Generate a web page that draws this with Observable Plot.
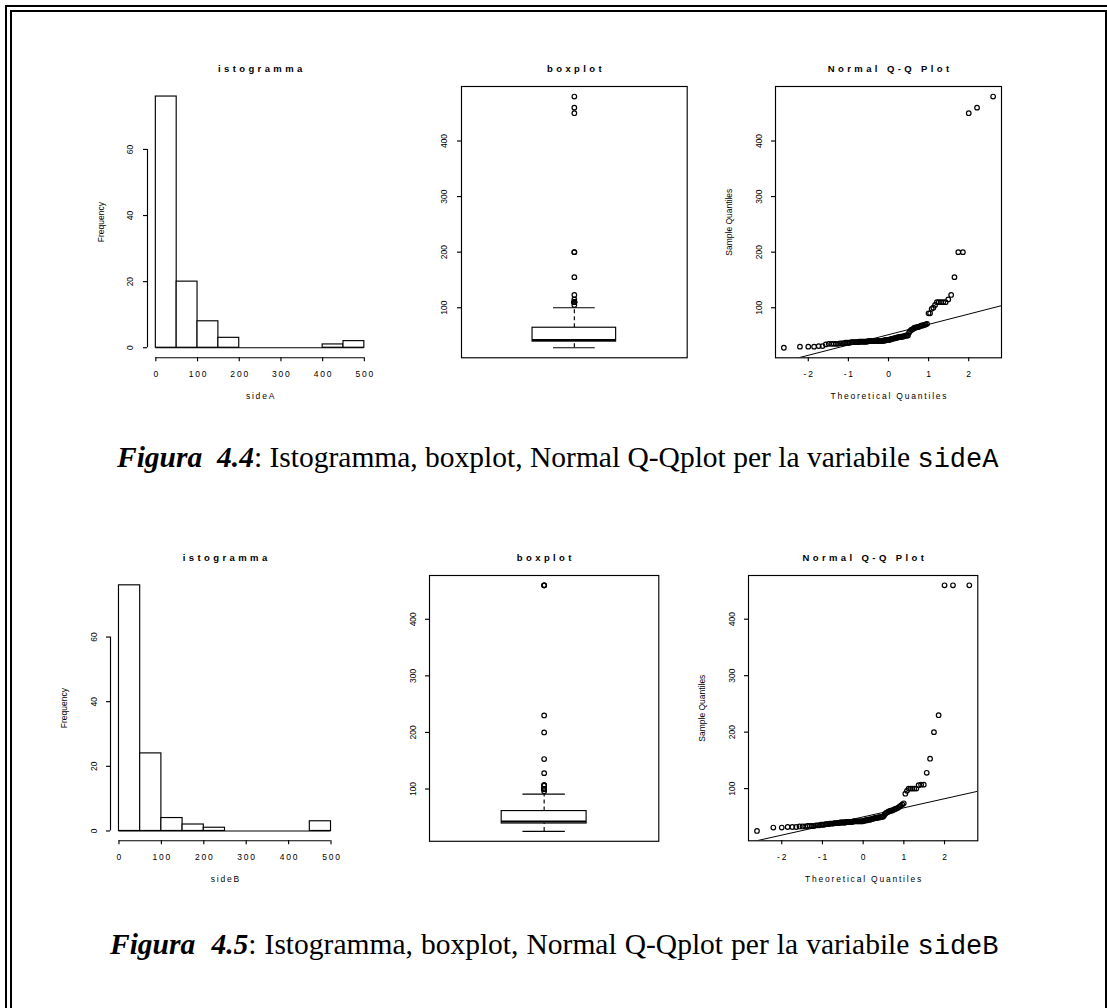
<!DOCTYPE html>
<html>
<head>
<meta charset="utf-8">
<script src="https://cdn.jsdelivr.net/npm/d3@7"></script>
<script src="https://cdn.jsdelivr.net/npm/@observablehq/plot@0.6"></script>
<style>
  body { margin: 0; background: #fff; }
  #page { position: relative; width: 1107px; height: 1008px; overflow: hidden; background: #fff; }
  .rule { position: absolute; box-sizing: border-box; border: 2px solid #000; }
  .panel { position: absolute; }
  .panel svg { overflow: visible; max-width: none; background: transparent; }
  .cap { position: absolute; font-family: "Liberation Serif", "Times New Roman", serif; font-size: 29.5px; line-height: 29.5px; white-space: pre; color: #000; }
  .cap .fig { font-weight: bold; font-style: italic; }
  .cap .mono { font-family: "Liberation Mono", "Courier New", monospace; font-size: 27px; }
</style>
</head>
<body>
<div id="page">
  <div class="rule" style="left:5px; top:5px; width:1120px; height:1100px;"></div>
  <div class="rule" style="left:10px; top:10px; width:1097px; height:1100px;"></div>
  <div class="cap" style="left:117px; top:443px;"><span class="fig">Figura  4.4</span>: Istogramma, boxplot, Normal Q-Qplot per la variabile <span class="mono">sideA</span></div>
  <div class="cap" style="left:110px; top:930px; word-spacing:0.7px;"><span class="fig">Figura  4.5</span>: Istogramma, boxplot, Normal Q-Qplot per la variabile <span class="mono">sideB</span></div>
</div>
<script>
// Sorted samples (n = 110) of the two variables
const sideA = [
  28,
  30, 30, 30, 31, 31,
  34, 35, 35, 35, 35, 35, 36, 36,
  36, 37, 37, 37, 37, 38,
  38, 38, 38, 38, 38, 39, 39,
  39, 39, 39, 39, 39, 39, 40, 40, 40, 40, 40, 40, 40,
  40, 40, 40, 40, 40, 40, 40, 40, 40, 41, 41, 41, 42, 42, 42,
  42, 43, 43, 44, 44, 45, 45, 45, 46, 46, 47,
  47, 47, 48, 48, 48, 49, 49, 50, 50, 50,
  55, 58, 60, 61, 62, 64, 64, 65, 65, 66, 67, 68, 68, 69, 70, 71,
  90, 90, 98, 100,
  105, 110, 110, 110, 110, 110, 115, 123,
  155, 200, 200, 450, 460, 480
];
const sideB = [
  25,
  31, 31, 32, 32, 32,
  33, 33, 33, 34, 34, 34, 34, 35,
  35, 35, 36, 36, 36, 37,
  37, 37, 38, 38, 38, 38, 39,
  39, 39, 39, 39, 40, 40, 40, 40, 40, 40, 41, 41, 41,
  41, 41, 41, 41, 42, 42, 42, 42, 42, 42, 42, 42, 42, 42, 42,
  43, 43, 44, 44, 44, 45, 45, 45, 46, 46, 47,
  47, 48, 48, 48, 49, 49, 49, 50, 50, 50,
  52, 55, 57, 58, 59, 60, 61, 61, 62, 63, 64, 65, 66, 68, 70, 72, 74,
  91,
  96, 100, 100, 100, 100, 100,
  106, 107, 107, 128,
  153, 200, 230, 460, 460, 460
];

// Histogram breaks and axis ticks
const histBreaks = [0, 50, 100, 150, 200, 250, 300, 350, 400, 450, 500];
const histXTicks = [0, 100, 200, 300, 400, 500];
const histYTicks = [0, 20, 40, 60];
const valueTicks = [100, 200, 300, 400];
const zTicks = [-2, -1, 0, 1, 2];

// Plot-region rectangles of the six panels on the page (2 rows x 3 columns)
const frames = {
  A1: {left: 147.4, right: 372.6, top: 86, bottom: 357.3},
  A2: {left: 461.3, right: 687, top: 86, bottom: 357.3},
  A3: {left: 775.3, right: 1001.3, top: 86, bottom: 357.3},
  B1: {left: 109.5, right: 338.5, top: 575, bottom: 840.3},
  B2: {left: 428.7, right: 658, top: 574.5, bottom: 840.3},
  B3: {left: 747.7, right: 977, top: 575, bottom: 840.3}
};

const page = document.getElementById("page");
const FONT = "Liberation Sans, Arial, Helvetica, sans-serif";
const M = {top: 40, right: 12, bottom: 52, left: 64};
const LW = 1.15;
const TITLE_SPACING = 3.4;   // wide character spacing of the bold titles
const LABEL_SPACING = 1.8;   // spacing of horizontal axis texts

// Axis range padded by 4% on each side
const ext = ([a, b]) => [a - 0.04 * (b - a), b + 0.04 * (b - a)];

// Inverse standard normal CDF (Acklam's rational approximation)
function qnorm(p) {
  const a = [-3.969683028665376e+01, 2.209460984245205e+02, -2.759285104469687e+02, 1.383577518672690e+02, -3.066479806614716e+01, 2.506628277459239e+00];
  const b = [-5.447609879822406e+01, 1.615858368580409e+02, -1.556989798598866e+02, 6.680131188771972e+01, -1.328068155288572e+01];
  const c = [-7.784894002430293e-03, -3.223964580411365e-01, -2.400758277161838e+00, -2.549732539343734e+00, 4.374664141464968e+00, 2.938163982698783e+00];
  const d = [7.784695709041462e-03, 3.224671290700398e-01, 2.445134137142996e+00, 3.754408661907416e+00];
  const pl = 0.02425;
  if (p < pl) {
    const q = Math.sqrt(-2 * Math.log(p));
    return (((((c[0] * q + c[1]) * q + c[2]) * q + c[3]) * q + c[4]) * q + c[5]) / ((((d[0] * q + d[1]) * q + d[2]) * q + d[3]) * q + 1);
  }
  if (p > 1 - pl) {
    const q = Math.sqrt(-2 * Math.log(1 - p));
    return -(((((c[0] * q + c[1]) * q + c[2]) * q + c[3]) * q + c[4]) * q + c[5]) / ((((d[0] * q + d[1]) * q + d[2]) * q + d[3]) * q + 1);
  }
  const q = p - 0.5, r = q * q;
  return (((((a[0] * r + a[1]) * r + a[2]) * r + a[3]) * r + a[4]) * r + a[5]) * q / (((((b[0] * r + b[1]) * r + b[2]) * r + b[3]) * r + b[4]) * r + 1);
}

// Right-closed bins (lowest included), as hist() does
function histogram(values) {
  return histBreaks.slice(0, -1).map((x0, i) => {
    const x1 = histBreaks[i + 1];
    const count = values.filter(v => (i === 0 ? v >= x0 : v > x0) && v <= x1).length;
    return {x0, x1, count};
  });
}

// Tukey five-number summary and 1.5 IQR whiskers
function boxStats(values) {
  const x = d3.sort(values);
  const n = x.length;
  const n4 = Math.floor((n + 3) / 2) / 2;
  const at = k => 0.5 * (x[Math.floor(k) - 1] + x[Math.ceil(k) - 1]);
  const [q1, med, q3] = [at(n4), at((n + 1) / 2), at(n + 1 - n4)];
  const iqr = q3 - q1;
  const inside = x.filter(v => v >= q1 - 1.5 * iqr && v <= q3 + 1.5 * iqr);
  return {q1, med, q3, lo: d3.min(inside), hi: d3.max(inside), out: x.filter(v => v < q1 - 1.5 * iqr || v > q3 + 1.5 * iqr)};
}

// Character spacing: bold titles get wide spacing, other horizontal texts a
// lighter one, rotated texts none.
function spaceText(svg) {
  d3.select(svg).selectAll("text").each(function() {
    if (this.closest("[transform*='rotate']")) return;
    const bold = this.closest("[font-weight='bold']");
    const s = bold ? TITLE_SPACING : LABEL_SPACING;
    this.style.letterSpacing = s + "px";
    // keep centred texts centred despite the trailing spacing
    const anchor = this.closest("[text-anchor]");
    if (!anchor || anchor.getAttribute("text-anchor") === "middle") {
      const tr = this.getAttribute("transform") || "";
      this.setAttribute("transform", tr + ` translate(${s / 2},0)`);
    }
  });
}

function mount(frame, options) {
  const svg = Plot.plot({
    width: frame.right - frame.left + M.left + M.right,
    height: frame.bottom - frame.top + M.top + M.bottom,
    marginTop: M.top, marginRight: M.right, marginBottom: M.bottom, marginLeft: M.left,
    style: {fontFamily: FONT, fontSize: "8px", color: "black", background: "transparent", overflow: "visible", maxWidth: "none"},
    ...options
  });
  spaceText(svg);
  const div = document.createElement("div");
  div.className = "panel";
  div.style.left = (frame.left - M.left) + "px";
  div.style.top = (frame.top - M.top) + "px";
  div.appendChild(svg);
  page.appendChild(div);
}

const title = t => Plot.text([t], {frameAnchor: "top", dy: -18, lineAnchor: "middle", textAnchor: "middle", fontWeight: "bold", fontSize: 9.5});
const xLabel = t => Plot.text([t], {frameAnchor: "bottom", dy: 38, lineAnchor: "middle", textAnchor: "middle", fontSize: 8.5});
const yLabel = t => Plot.text([t], {frameAnchor: "left", dx: -46, rotate: -90, lineAnchor: "middle", textAnchor: "middle", fontSize: 8.5});
const yAxis = ticks => Plot.axisY({ticks, tickSize: 4, tickPadding: 10, tickRotate: -90, fontSize: 8.5, label: null, tickFormat: d => String(d), strokeWidth: LW});
const xAxis = ticks => Plot.axisX({ticks, tickSize: 4, tickPadding: 9.5, fontSize: 8.5, label: null, tickFormat: d => String(d), strokeWidth: LW});

function histPanel(frame, values, name) {
  const bins = histogram(values);
  const xd = ext([histBreaks[0], histBreaks[histBreaks.length - 1]]);
  const yd = ext([0, d3.max(bins, d => d.count)]);
  mount(frame, {
    x: {domain: xd},
    y: {domain: yd},
    marks: [
      Plot.rect(bins, {x1: "x0", x2: "x1", y1: () => 0, y2: "count", fill: "white", stroke: "black", strokeWidth: LW}),
      Plot.ruleY([0], {x1: () => histBreaks[0], x2: () => histBreaks[histBreaks.length - 1], stroke: "black", strokeWidth: LW}),
      Plot.ruleY([yd[0]], {x1: () => histXTicks[0], x2: () => histXTicks[histXTicks.length - 1], stroke: "black", strokeWidth: LW}),
      Plot.ruleX([xd[0]], {y1: () => histYTicks[0], y2: () => histYTicks[histYTicks.length - 1], stroke: "black", strokeWidth: LW}),
      xAxis(histXTicks),
      yAxis(histYTicks),
      title("istogramma"),
      xLabel(name),
      yLabel("Frequency")
    ]
  });
}

function boxPanel(frame, values) {
  const s = boxStats(values);
  mount(frame, {
    x: {domain: ext([0.5, 1.5]), axis: null},
    y: {domain: ext(d3.extent(values))},
    marks: [
      Plot.frame({stroke: "black", strokeWidth: LW}),
      Plot.ruleX([s], {x: () => 1, y1: "q3", y2: "hi", stroke: "black", strokeWidth: LW, strokeDasharray: "4,3"}),
      Plot.ruleX([s], {x: () => 1, y1: "lo", y2: "q1", stroke: "black", strokeWidth: LW, strokeDasharray: "4,3"}),
      Plot.ruleY([s.lo, s.hi], {x1: () => 0.9, x2: () => 1.1, stroke: "black", strokeWidth: LW}),
      Plot.rect([s], {x1: () => 0.8, x2: () => 1.2, y1: "q1", y2: "q3", fill: "white", stroke: "black", strokeWidth: LW}),
      Plot.ruleY([s], {y: "med", x1: () => 0.8, x2: () => 1.2, stroke: "black", strokeWidth: 2}),
      Plot.dot(s.out, {x: () => 1, y: d => d, r: 2.3, stroke: "black", strokeWidth: 1.2, fill: "none"}),
      yAxis(valueTicks),
      title("boxplot")
    ]
  });
}

function qqPanel(frame, values) {
  const x = d3.sort(values);
  const n = x.length;
  const pts = x.map((v, i) => ({z: qnorm((i + 0.5) / n), v}));
  const y1 = d3.quantileSorted(x, 0.25), y3 = d3.quantileSorted(x, 0.75);
  const z1 = qnorm(0.25), z3 = qnorm(0.75);
  const slope = (y3 - y1) / (z3 - z1), icpt = y1 - slope * z1;
  const xd = ext(d3.extent(pts, d => d.z));
  mount(frame, {
    x: {domain: xd},
    y: {domain: ext(d3.extent(x))},
    marks: [
      Plot.frame({stroke: "black", strokeWidth: LW}),
      Plot.link([{slope, icpt}], {x1: () => xd[0], y1: d => d.icpt + d.slope * xd[0], x2: () => xd[1], y2: d => d.icpt + d.slope * xd[1], stroke: "black", strokeWidth: 1, clip: true}),
      Plot.dot(pts, {x: "z", y: "v", r: 2.3, stroke: "black", strokeWidth: 1.2, fill: "none"}),
      xAxis(zTicks),
      yAxis(valueTicks),
      title("Normal Q-Q Plot"),
      xLabel("Theoretical Quantiles"),
      yLabel("Sample Quantiles")
    ]
  });
}

histPanel(frames.A1, sideA, "sideA");
boxPanel(frames.A2, sideA);
qqPanel(frames.A3, sideA);
histPanel(frames.B1, sideB, "sideB");
boxPanel(frames.B2, sideB);
qqPanel(frames.B3, sideB);
</script>
</body>
</html>
